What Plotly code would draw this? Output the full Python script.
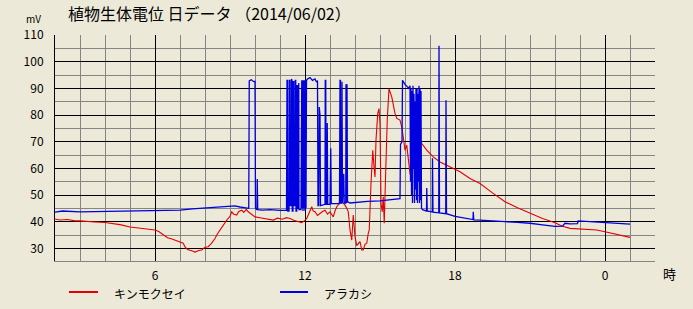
import plotly.graph_objects as go

# ---- data (hours since 0:00 of 2014/06/02; values in mV) ----
red_name = "キンモクセイ"
red_t = [2.0, 2.2, 2.5, 2.8, 3.0, 3.3, 3.6, 4.0, 4.3, 4.6, 5.0, 5.2, 5.5, 5.8, 6.0, 6.15, 6.3, 6.5, 6.65, 6.8,
         7.0, 7.13, 7.2, 7.3, 7.5, 7.6, 7.75, 7.87, 8.0, 8.13, 8.25, 8.4, 8.5, 8.6, 8.75, 8.87, 9.0, 9.07, 9.15, 9.27,
         9.35, 9.47, 9.55, 9.65, 9.73, 9.85, 10.0, 10.2, 10.4, 10.6, 10.73, 10.9, 11.1, 11.25, 11.4, 11.55, 11.7, 11.87, 12.0, 12.07,
         12.15, 12.27, 12.33, 12.4, 12.5, 12.6, 12.7, 12.8, 12.9, 13.0, 13.13, 13.2, 13.27, 13.35, 13.4, 13.5, 13.6, 13.7, 13.73, 13.8,
         13.87, 13.93, 14.0, 14.07, 14.13, 14.2, 14.27, 14.33, 14.4, 14.47, 14.53, 14.57, 14.64, 14.71, 14.76, 14.8, 14.84, 14.91, 14.96, 15.0,
         15.04, 15.09, 15.13, 15.17, 15.23, 15.29, 15.36, 15.47, 15.6, 15.67, 15.8, 15.87, 15.93, 16.0, 16.07, 16.13, 16.2, 16.27, 16.33, 16.47,
         16.5, 16.53, 16.6, 16.67, 16.87, 17.13, 17.4, 17.67, 17.93, 18.2, 18.6, 19.0, 19.5, 20.0, 20.5, 21.0, 21.5, 22.0, 22.3, 22.6,
         23.0, 23.3, 23.67, 24.0, 24.33, 24.7, 25.0]
red_v = [41.0, 40.6, 40.8, 40.3, 40.3, 40.0, 39.9, 39.7, 39.4, 38.9, 38.0, 37.8, 37.4, 37.2, 36.9, 36.3, 35.4, 34.0, 33.6, 33.1,
         32.6, 31.9, 30.5, 29.6, 29.0, 28.6, 29.2, 29.4, 30.4, 30.6, 31.8, 33.7, 35.5, 36.9, 38.8, 40.6, 42.0, 43.7, 42.8, 42.5,
         43.8, 44.3, 43.5, 44.6, 43.7, 43.0, 41.8, 41.5, 41.2, 40.8, 40.6, 41.3, 40.9, 41.5, 41.2, 40.5, 40.2, 39.6, 40.5, 41.2,
         43.0, 45.6, 44.0, 43.7, 42.3, 43.1, 43.8, 44.3, 42.8, 43.7, 41.8, 44.0, 45.6, 46.5, 48.1, 47.2, 46.2, 44.5, 43.7, 36.9,
         33.1, 42.5, 34.4, 31.0, 31.9, 32.5, 29.4, 29.4, 31.5, 31.9, 35.6, 36.9, 54.3, 66.8, 60.6, 56.8, 70.6, 80.6, 82.4, 76.8,
         46.9, 43.7, 49.3, 39.4, 59.3, 78.1, 89.9, 86.8, 80.6, 78.7, 78.1, 75.5, 71.8, 66.8, 68.7, 64.3, 58.1, 55.6, 61.8, 69.3,
         72.4, 71.8, 70.6, 69.3, 66.8, 64.3, 62.4, 61.2, 60.0, 58.7, 56.2, 54.3, 50.8, 47.5, 45.2, 43.1, 41.2, 39.6, 38.3, 37.5,
         37.2, 37.1, 36.9, 36.2, 35.6, 34.9, 34.1]

blue_name = "アラカシ"
blue_t = [2.0, 2.3, 3.0, 4.0, 5.0, 6.0, 6.5, 7.0, 7.5, 8.0, 8.5, 9.0, 9.2, 9.4, 9.6, 9.75,
          9.77, 9.85, 9.95, 10.0, 10.02, 10.08, 10.09, 10.11, 10.3, 10.6, 11.0, 11.26,
          11.28, 11.30, 11.31, 11.36, 11.37, 11.40, 11.41, 11.45, 11.46, 11.48, 11.49, 11.52, 11.53, 11.55, 11.56, 11.60,
          11.61, 11.63, 11.64, 11.67, 11.68, 11.70, 11.71, 11.74, 11.75, 11.76, 11.84, 11.85, 11.87, 11.88, 11.90, 11.92,
          11.94, 11.96, 11.98, 12.0, 12.02, 12.04, 12.06, 12.1, 12.2, 12.3, 12.4, 12.45, 12.5,
          12.52, 12.55, 12.57, 12.6, 12.62, 12.8, 12.81, 12.83, 12.84, 12.88, 12.89, 12.91, 13.0, 13.03, 13.05, 13.38,
          13.40, 13.42, 13.43, 13.47, 13.48, 13.50, 13.55, 13.57, 13.63, 13.64, 13.66, 13.67, 13.68, 13.70,
          13.8, 14.0, 14.5, 15.0, 15.5, 15.8, 15.82, 15.88, 15.9, 15.95, 16.0, 16.05, 16.1, 16.15, 16.2,
          16.22, 16.24, 16.26, 16.28, 16.30, 16.32, 16.34, 16.36, 16.38, 16.40, 16.42, 16.44, 16.46, 16.48, 16.50, 16.52,
          16.54, 16.56, 16.58, 16.60, 16.62, 16.64, 16.66,
          16.7, 16.86, 16.87, 16.89, 17.09, 17.1, 17.12, 17.35, 17.36, 17.38, 17.63, 17.64, 17.66, 18.0, 18.5, 18.72,
          18.73, 18.75, 19.0, 19.5, 20.0, 20.5, 21.0, 21.5, 22.0, 22.3, 22.4, 22.6, 22.9, 22.93, 23.5, 24.0, 24.5, 25.0]
blue_v = [43.6, 44.0, 43.7, 43.8, 43.9, 44.0, 44.1, 44.3, 44.8, 45.1, 45.4, 45.6, 45.9, 45.5, 45.3, 45.0,
          92.8, 93.2, 92.5, 92.6, 45.0, 44.5, 56.0, 44.5, 44.3, 44.5, 44.2, 44.3,
          93.0, 93.0, 44.0, 44.0, 93.0, 93.0, 46.0, 46.0, 93.5, 93.0, 44.0, 44.0, 92.5, 92.5, 46.0, 46.0,
          93.0, 93.0, 44.0, 44.0, 91.0, 91.0, 45.0, 45.0, 92.0, 44.5, 44.5, 93.0, 93.0, 45.0, 93.0, 44.0,
          93.0, 45.0, 93.0, 44.0, 93.0, 45.0, 93.0, 93.5, 94.0, 93.0, 93.5, 92.5, 92.8,
          46.0, 46.0, 83.0, 80.0, 46.0, 46.5, 93.0, 93.0, 46.5, 46.5, 77.0, 46.5, 46.5, 67.5, 46.8, 46.8,
          93.0, 93.0, 47.0, 47.0, 92.5, 47.0, 58.0, 47.0, 47.0, 91.5, 91.0, 47.0, 91.5, 47.5,
          47.0, 47.2, 47.6, 47.8, 48.3, 48.6, 69.0, 70.0, 93.0, 92.0, 91.5, 91.0, 90.5, 90.0, 91.0,
          55.0, 90.0, 50.0, 89.0, 47.0, 91.0, 60.0, 88.0, 47.0, 85.0, 52.0, 90.0, 48.0, 90.0, 47.0, 88.0,
          55.0, 91.0, 47.0, 90.0, 48.0, 89.0, 45.0,
          44.5, 44.0, 52.6, 44.0, 43.6, 63.8, 43.6, 43.3, 106.0, 43.3, 43.0, 85.5, 43.0, 42.0, 41.2, 40.8,
          43.7, 40.7, 40.6, 40.2, 40.0, 39.7, 39.4, 38.8, 38.2, 38.3, 39.4, 39.2, 39.3, 40.3, 40.0, 39.8, 39.5, 39.1]

title_text = "植物生体電位 日データ （2014/06/02）"
y_ticks = [30, 40, 50, 60, 70, 80, 90, 100, 110]
y_minor = [35, 45, 55, 65, 75, 85, 95, 105]
x_ticks = [6, 12, 18, 24]
x_ticklabels = ["6", "12", "18", "0"]
x_minor = [h for h in range(3, 26)]

BG = "#ECE9D8"
FONT = "Noto Sans CJK JP"
RED = "#E40000"
BLUE = "#0000E0"

fig = go.Figure()
fig.add_trace(go.Scatter(x=red_t, y=red_v, mode="lines", name=red_name,
                         line=dict(color=RED, width=1.1), showlegend=False))
fig.add_trace(go.Scatter(x=blue_t, y=blue_v, mode="lines", name=blue_name,
                         line=dict(color=BLUE, width=1.3), showlegend=False))

W, H = 693, 309
L, R, T, B = 55, 655, 35, 261

def px(x):
    return (x - L) / (R - L)

def py(y):
    return (B - y) / (B - T)

# legend (manual)
for x0, x1, col in [(69, 98, RED), (280, 308, BLUE)]:
    fig.add_shape(type="line", xref="paper", yref="paper", x0=px(x0), x1=px(x1),
                  y0=py(292), y1=py(292), line=dict(color=col, width=2))
fig.add_annotation(text=red_name, xref="paper", yref="paper", x=px(112), y=py(293),
                   xanchor="left", yanchor="middle", showarrow=False,
                   font=dict(family=FONT, size=12, color="black"))
fig.add_annotation(text=blue_name, xref="paper", yref="paper", x=px(322), y=py(293),
                   xanchor="left", yanchor="middle", showarrow=False,
                   font=dict(family=FONT, size=12, color="black"))
fig.add_annotation(text="時", xref="paper", yref="paper", x=px(669), y=py(273),
                   xanchor="center", yanchor="middle", showarrow=False,
                   font=dict(family=FONT, size=13, color="black"))
fig.add_annotation(text="mV", xref="paper", yref="paper", x=px(33), y=py(19),
                   xanchor="center", yanchor="middle", showarrow=False,
                   font=dict(family=FONT, size=10, color="black"))

fig.update_layout(
    width=W, height=H,
    margin=dict(l=L, r=W - R, t=T, b=H - B, pad=0),
    paper_bgcolor=BG, plot_bgcolor=BG,
    font=dict(family=FONT, size=12, color="black"),
    title=dict(text=title_text, x=68 / W, xref="container", xanchor="left",
               y=1 - 14 / H, yref="container", yanchor="middle",
               font=dict(family=FONT, size=16, color="black")),
    xaxis=dict(range=[2, 26], tickvals=x_ticks, ticktext=x_ticklabels,
               showgrid=True, gridcolor="black", gridwidth=1,
               minor=dict(tickvals=x_minor, showgrid=True, gridcolor="#858585", gridwidth=1),
               showline=True, linecolor="#858585", linewidth=1,
               zeroline=False, ticks="", ticklabelstandoff=4, fixedrange=True),
    yaxis=dict(range=[25.25, 110], tickvals=y_ticks,
               showgrid=True, gridcolor="black", gridwidth=1,
               minor=dict(tickvals=y_minor, showgrid=True, gridcolor="#858585", gridwidth=1),
               showline=True, linecolor="black", linewidth=1,
               zeroline=False, ticks="", ticklabelstandoff=8, fixedrange=True),
)

fig.write_html("out.html")
